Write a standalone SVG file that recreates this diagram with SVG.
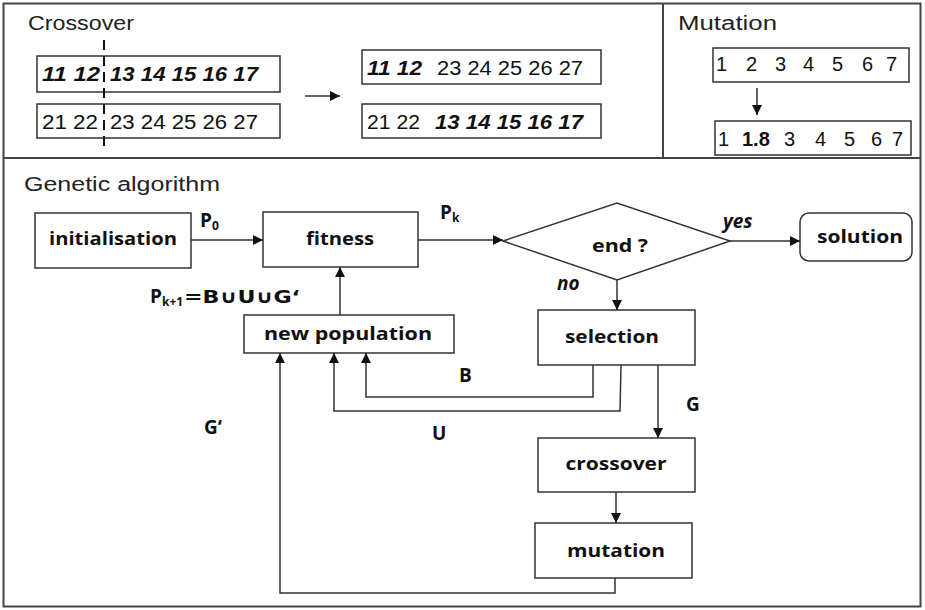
<svg xmlns="http://www.w3.org/2000/svg" width="925" height="610" viewBox="0 0 925 610">
<style>
.frame{fill:none;stroke:#444;stroke-width:2}
.box{fill:#fff;stroke:#333;stroke-width:1.5}
.title{font-family:"Liberation Sans",Arial,sans-serif;font-size:20px;fill:#222}
.num{font-family:"Liberation Sans",Arial,sans-serif;font-size:20px;fill:#111}
.bi{font-weight:bold;font-style:italic}
.b{font-weight:bold}
.lbl{font-family:"Open Sans","DejaVu Sans",sans-serif;font-weight:bold;font-size:18px;fill:#111;text-anchor:middle}
.edge{font-family:"Open Sans","DejaVu Sans",sans-serif;font-weight:bold;font-size:19px;fill:#111}
.sub{font-size:12px}
.conn{fill:none;stroke:#333;stroke-width:1.5}
</style>
<defs>
<marker id="ah" viewBox="0 0 10 10" refX="10" refY="5" markerWidth="10" markerHeight="10" markerUnits="userSpaceOnUse" orient="auto">
<path d="M0,0 L10,5 L0,10 z" fill="#111"/>
</marker>
</defs>

<rect class="frame" x="3.5" y="3.5" width="917" height="603"/>
<line class="frame" x1="3" y1="158" x2="921" y2="158"/>
<line class="frame" x1="663" y1="3" x2="663" y2="158"/>

<g id="crossover-panel">
<text class="title" x="28" y="30" textLength="106" lengthAdjust="spacingAndGlyphs">Crossover</text>
<rect class="box" x="37" y="56" width="243" height="36"/>
<rect class="box" x="37" y="104" width="243" height="34"/>
<line x1="104" y1="40" x2="104" y2="150" stroke="#111" stroke-width="2" stroke-dasharray="10 6"/>
<text class="num bi" x="42" y="81" textLength="58" lengthAdjust="spacingAndGlyphs">11 12</text>
<text class="num bi" x="110" y="81" textLength="148" lengthAdjust="spacingAndGlyphs">13 14 15 16 17</text>
<text class="num" x="42" y="129" textLength="56" lengthAdjust="spacingAndGlyphs">21 22</text>
<text class="num" x="110" y="129" textLength="148" lengthAdjust="spacingAndGlyphs">23 24 25 26 27</text>
<rect class="box" x="362" y="50" width="239" height="34"/>
<rect class="box" x="362" y="104" width="239" height="34"/>
<text class="num bi" x="367" y="75" textLength="55" lengthAdjust="spacingAndGlyphs">11 12</text>
<text class="num" x="437" y="75" textLength="146" lengthAdjust="spacingAndGlyphs">23 24 25 26 27</text>
<text class="num" x="367" y="129" textLength="53" lengthAdjust="spacingAndGlyphs">21 22</text>
<text class="num bi" x="435" y="129" textLength="148" lengthAdjust="spacingAndGlyphs">13 14 15 16 17</text>
<line class="conn" x1="305" y1="96" x2="340" y2="96" stroke="#111" marker-end="url(#ah)"/>
</g>

<g id="mutation-panel">
<text class="title" x="678" y="30" textLength="99" lengthAdjust="spacingAndGlyphs">Mutation</text>
<rect class="box" x="713" y="48" width="196" height="34"/>
<text class="num" y="71"><tspan x="716">1</tspan><tspan x="746">2</tspan><tspan x="775">3</tspan><tspan x="803">4</tspan><tspan x="832">5</tspan><tspan x="862">6</tspan><tspan x="886">7</tspan></text>
<line class="conn" x1="757" y1="88" x2="757" y2="115" stroke="#111" marker-end="url(#ah)"/>
<rect class="box" x="715" y="121" width="196" height="34"/>
<text class="num" y="146"><tspan x="718">1</tspan><tspan x="742" class="b">1.8</tspan><tspan x="784">3</tspan><tspan x="815">4</tspan><tspan x="844">5</tspan><tspan x="871">6</tspan><tspan x="892">7</tspan></text>
</g>

<text class="title" x="24" y="191" textLength="196" lengthAdjust="spacingAndGlyphs">Genetic algorithm</text>

<g id="initialisation">
<rect class="box" x="35" y="213" width="156" height="55"/>
<text class="lbl" x="113" y="245" textLength="128" lengthAdjust="spacingAndGlyphs">initialisation</text>
</g>
<g id="fitness">
<rect class="box" x="263" y="212" width="155" height="55"/>
<text class="lbl" x="340" y="245" textLength="68" lengthAdjust="spacingAndGlyphs">fitness</text>
</g>
<g id="end">
<polygon points="503,241 617,203 730,241 617,280" fill="#fff" stroke="#333" stroke-width="1.5"/>
<text class="lbl" x="620" y="252" textLength="56" lengthAdjust="spacingAndGlyphs">end ?</text>
</g>
<g id="solution">
<rect class="box" x="800" y="213" width="112" height="48" rx="9"/>
<text class="lbl" x="860" y="243" textLength="86" lengthAdjust="spacingAndGlyphs">solution</text>
</g>
<g id="new-population">
<rect class="box" x="244" y="315" width="210" height="38"/>
<text class="lbl" x="348" y="340" textLength="168" lengthAdjust="spacingAndGlyphs">new population</text>
</g>
<g id="selection">
<rect class="box" x="538" y="310" width="157" height="55"/>
<text class="lbl" x="612" y="343" textLength="94" lengthAdjust="spacingAndGlyphs">selection</text>
</g>
<g id="crossover">
<rect class="box" x="538" y="438" width="157" height="54"/>
<text class="lbl" x="616" y="470" textLength="101" lengthAdjust="spacingAndGlyphs">crossover</text>
</g>
<g id="mutation">
<rect class="box" x="535" y="523" width="157" height="55"/>
<text class="lbl" x="616" y="557" textLength="98" lengthAdjust="spacingAndGlyphs">mutation</text>
</g>

<g id="connectors">
<line class="conn" x1="191" y1="240" x2="263" y2="240" marker-end="url(#ah)"/>
<line class="conn" x1="418" y1="240" x2="503" y2="240" marker-end="url(#ah)"/>
<line class="conn" x1="730" y1="241" x2="800" y2="241" marker-end="url(#ah)"/>
<line class="conn" x1="617" y1="280" x2="617" y2="310" marker-end="url(#ah)"/>
<line class="conn" x1="340" y1="315" x2="340" y2="267" marker-end="url(#ah)"/>
<polyline class="conn" points="593,365 593,397 366,397 366,353" marker-end="url(#ah)"/>
<polyline class="conn" points="621,365 620,411 334,411 334,353" marker-end="url(#ah)"/>
<line class="conn" x1="658" y1="365" x2="658" y2="438" marker-end="url(#ah)"/>
<line class="conn" x1="616" y1="492" x2="616" y2="523" marker-end="url(#ah)"/>
<polyline class="conn" points="615,578 615,593 280,593 280,353" marker-end="url(#ah)"/>
</g>

<g id="edge-labels">
<text class="edge" x="200" y="227">P<tspan class="sub" dy="3">0</tspan></text>
<text class="edge" x="440" y="219">P<tspan class="sub" dy="3">k</tspan></text>
<text class="edge" x="150" y="303">P<tspan class="sub" dy="3">k+1</tspan><tspan x="184" dy="-3" font-family="'DejaVu Sans',sans-serif" font-size="18" textLength="116" lengthAdjust="spacingAndGlyphs">=B∪U∪G‘</tspan></text>
<text class="edge" x="723" y="228" font-style="italic">yes</text>
<text class="edge" x="557" y="290" font-style="italic">no</text>
<text class="edge" x="459" y="382">B</text>
<text class="edge" x="432" y="440">U</text>
<text class="edge" x="204" y="434">G‘</text>
<text class="edge" x="686" y="411">G</text>
</g>
</svg>
